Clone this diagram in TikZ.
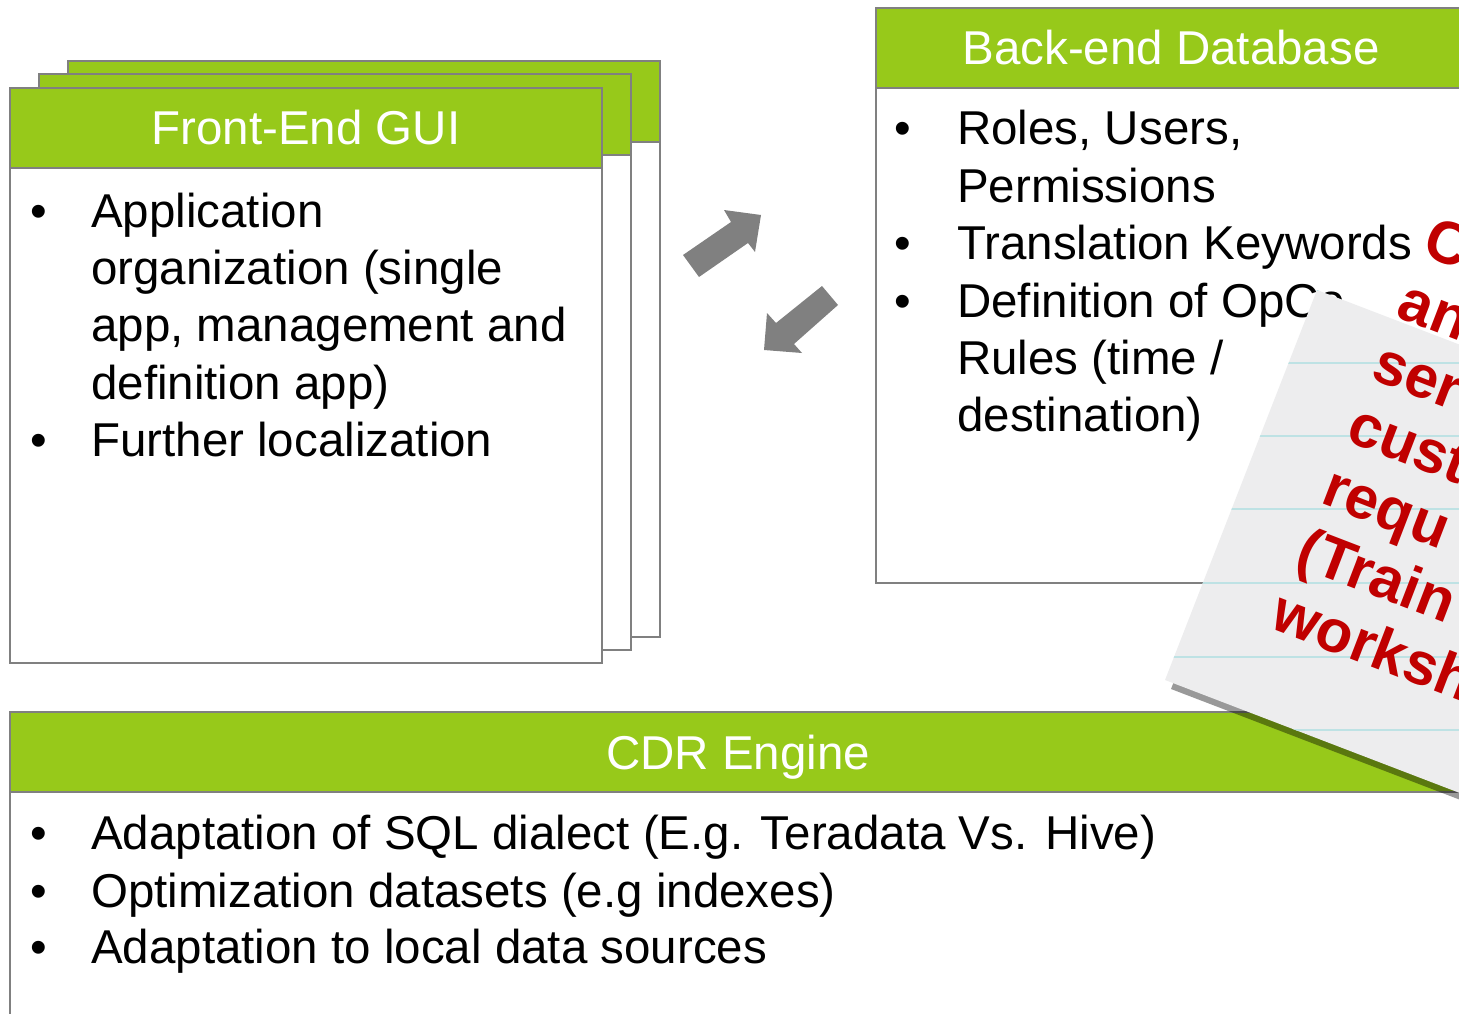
\documentclass[tikz,border=0pt]{standalone}
\usepackage{fontspec}
\setmainfont{Liberation Sans}
\usetikzlibrary{calc}
\definecolor{hdrgreen}{RGB}{151,201,26}
\definecolor{framegray}{RGB}{128,128,128}
\definecolor{arrowgray}{RGB}{128,128,128}
\definecolor{notered}{RGB}{192,0,0}
\definecolor{notepaper}{RGB}{237,237,238}
\definecolor{ruleblue}{RGB}{190,226,228}
\newcommand\bodyfont{\fontsize{47.5}{57}\selectfont}
\newcommand\notefont{\fontsize{60}{66}\selectfont\bfseries}
\begin{document}
\begin{tikzpicture}[x=1pt,y=-1pt,
  frame/.style={draw=framegray, line width=2.5pt},
  panel/.style={frame, fill=white, anchor=north west, inner sep=0pt, outer sep=0pt},
  header/.style={frame, fill=hdrgreen, anchor=north west, inner sep=0pt, outer sep=0pt},
  title/.style={text=white, font=\bodyfont, anchor=base, inner sep=0pt},
  txt/.style={font=\bodyfont, anchor=base west, inner sep=0pt},
  bul/.style={font=\bodyfont, anchor=base, inner sep=0pt},
  blockarrow/.style={fill=arrowgray},
  notetext/.style={font=\notefont, text=notered, anchor=base west, inner sep=0pt, rotate=-21}]
\useasboundingbox (0,0) rectangle (1459,1014);
\clip (0,0) rectangle (1459,1014);

% front-end GUI: three stacked sheets
\node[panel, minimum width=592, minimum height=576] (guiC) at (68,61) {};
\node[header, minimum width=592, minimum height=81] (guiChd) at (68,61) {};
\node[panel, minimum width=592, minimum height=576] (guiB) at (39,74) {};
\node[header, minimum width=592, minimum height=81] (guiBhd) at (39,74) {};
\node[panel, minimum width=592, minimum height=575] (guiA) at (10,88) {};
\node[header, minimum width=592, minimum height=80] (guiAhd) at (10,88) {};
\node[title] (guiT) at (306,145) {Front-End GUI};
\node[bul] (guiB1) at (39,227) {•};
\node[txt] (guiL1) at (91,227) {Application};
\node[txt] (guiL2) at (91,284) {organization (single};
\node[txt] (guiL3) at (91,341) {app, management and};
\node[txt] (guiL4) at (91,399) {definition app)};
\node[bul] (guiB2) at (39,456) {•};
\node[txt] (guiL5) at (91,456) {Further localization};

% back-end database
\node[panel, minimum width=594, minimum height=575] (db) at (876,8) {};
\node[header, minimum width=594, minimum height=80] (dbhd) at (876,8) {};
\node[title] (dbT) at (1171,65) {Back-end Database};
\node[bul] (dbB1) at (903,145) {•};
\node[txt] (dbL1) at (957,145) {Roles, Users,};
\node[txt] (dbL2) at (957,202) {Permissions};
\node[bul] (dbB2) at (903,259) {•};
\node[txt] (dbL3) at (957,259) {Translation Keywords};
\node[bul] (dbB3) at (903,317) {•};
\node[txt] (dbL4) at (957,317) {Definition of OpCo};
\node[txt] (dbL5) at (957,374) {Rules (time /};
\node[txt] (dbL6) at (957,431) {destination)};

% CDR engine
\node[panel, minimum width=1460, minimum height=320] (cdr) at (10,712) {};
\node[header, minimum width=1460, minimum height=80] (cdrhd) at (10,712) {};
\node[title] (cdrT) at (738,769) {CDR Engine};
\node[bul] (cdrB1) at (39,849) {•};
\node[txt] (cdrL1) at (91,849) {Adaptation of SQL dialect (E.g. Teradata Vs. Hive)};
\node[bul] (cdrB2) at (39,907) {•};
\node[txt] (cdrL2) at (91,907) {Optimization datasets (e.g indexes)};
\node[bul] (cdrB3) at (39,963) {•};
\node[txt] (cdrL3) at (91,963) {Adaptation to local data sources};

% exchange arrows between GUI and database
\fill[blockarrow] (683,255) -- (731,222) -- (724,210) -- (761,215) -- (755,252) -- (748,243) -- (699,277) -- cycle;
\fill[blockarrow] (822,286) -- (776,323) -- (767,313) -- (764,350) -- (802,353) -- (794,344) -- (838,305) -- cycle;

% tilted note sheet with drop shadow and ruled lines
\coordinate (pTL) at (1317,290);
\coordinate (pBL) at (1165,680);
\coordinate (pTR) at ($(pTL)+(420,161)$);
\coordinate (pBR) at ($(pBL)+(420,161)$);
\fill[black, opacity=0.4] ($(pTL)+(6,9)$) -- ($(pBL)+(6,9)$) -- ($(pBR)+(6,9)$) -- ($(pTR)+(6,9)$) -- cycle;
\fill[notepaper] (pTL) -- (pBL) -- (pBR) -- (pTR) -- cycle;
\begin{scope}
  \clip (pTL) -- (pBL) -- (pBR) -- (pTR) -- cycle;
  \foreach \ly in {290,363,436,509,583,657,730,803}
    \draw[ruleblue, line width=2.5pt] (1100,\ly) -- (1500,\ly);
\end{scope}
\foreach \w [count=\k from 0] in {C,an,ser,cust,requ,{(Train},worksh}
  \node[notetext] (note\k) at (1420-25.3*\k, 254+62.2*\k) {\w};
\end{tikzpicture}
\end{document}
